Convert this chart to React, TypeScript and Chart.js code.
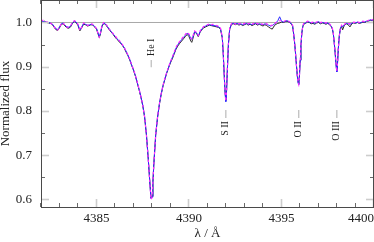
import { useEffect, useRef } from 'react';
import { Chart, registerables } from 'chart.js';

Chart.register(...registerables);

// Wavelength grid (Å)
const wavelengths = [
  4382.0, 4382.1, 4382.2, 4382.3, 4382.4, 4382.5, 4382.6, 4382.7, 4382.8, 4382.9,
  4383.0, 4383.1, 4383.2, 4383.3, 4383.4, 4383.5, 4383.6, 4383.7, 4383.8, 4383.9,
  4384.0, 4384.1, 4384.2, 4384.3, 4384.4, 4384.5, 4384.6, 4384.7, 4384.8, 4384.9,
  4385.0,
  4385.1, 4385.15, 4385.2, 4385.3, 4385.4, 4385.5, 4385.6, 4385.7, 4385.8, 4385.9,
  4386.0, 4386.1, 4386.2, 4386.3, 4386.4, 4386.5, 4386.6, 4386.7, 4386.8, 4386.9,
  4387.0, 4387.1, 4387.2, 4387.3, 4387.4, 4387.5, 4387.6, 4387.7, 4387.8, 4387.9, 4387.95,
  4388.0, 4388.05, 4388.1, 4388.2, 4388.3, 4388.4, 4388.5, 4388.6, 4388.7, 4388.8, 4388.9,
  4389.0, 4389.1, 4389.2, 4389.3, 4389.4, 4389.5, 4389.6, 4389.7, 4389.8, 4389.9,
  4390.0, 4390.1, 4390.15, 4390.2, 4390.3, 4390.4, 4390.5, 4390.6, 4390.7, 4390.8, 4390.9,
  4391.0, 4391.1, 4391.2, 4391.3, 4391.4, 4391.5, 4391.6, 4391.7,
  4391.8, 4391.85, 4391.9, 4391.95, 4391.99, 4392.03, 4392.08, 4392.13, 4392.2, 4392.3,
  4392.4, 4392.5, 4392.6, 4392.7, 4392.8, 4392.9,
  4393.0, 4393.1, 4393.2, 4393.3, 4393.4, 4393.5, 4393.6, 4393.7, 4393.8, 4393.9,
  4394.0, 4394.1, 4394.2, 4394.3, 4394.4, 4394.5, 4394.6, 4394.7, 4394.8, 4394.9,
  4395.0, 4395.1, 4395.2, 4395.3, 4395.4, 4395.5,
  4395.6, 4395.65, 4395.7, 4395.75, 4395.8, 4395.85, 4395.9, 4395.93, 4395.97, 4396.01, 4396.05, 4396.1, 4396.15, 4396.2,
  4396.3, 4396.4, 4396.5, 4396.6, 4396.7, 4396.8, 4396.9, 4397.0, 4397.1, 4397.2, 4397.3, 4397.4, 4397.5, 4397.6, 4397.7,
  4397.75, 4397.8, 4397.85, 4397.9, 4397.95, 4397.99, 4398.03, 4398.07, 4398.12, 4398.18, 4398.25,
  4398.3, 4398.4, 4398.5, 4398.6, 4398.7, 4398.8, 4398.9, 4399.0, 4399.1, 4399.2, 4399.3, 4399.4, 4399.5, 4399.6, 4399.7, 4399.8, 4399.9, 4400.0,
];

// Observed spectrum (dark line)
const observed = [
  1.002, 1.001, 1.003, 1.0, 0.999, 0.998, 0.996, 0.99, 0.984, 0.982,
  0.988, 0.996, 0.997, 0.992, 0.988, 0.987, 0.99, 0.998, 1.002, 1.0,
  0.993, 0.981, 0.988, 0.996, 0.995, 0.992, 0.993, 0.995, 0.994, 0.99,
  0.985,
  0.972, 0.966, 0.972, 0.992, 0.998, 0.995, 0.989, 0.983, 0.978, 0.973,
  0.967, 0.962, 0.958, 0.953, 0.948, 0.942, 0.933, 0.925, 0.915, 0.903,
  0.892, 0.879, 0.864, 0.848, 0.831, 0.812, 0.786, 0.745, 0.69, 0.628, 0.603,
  0.607, 0.64, 0.68, 0.745, 0.785, 0.815, 0.838, 0.857, 0.872, 0.886, 0.898,
  0.909, 0.918, 0.929, 0.94, 0.947, 0.953, 0.958, 0.963, 0.968, 0.973,
  0.968, 0.958, 0.955, 0.962, 0.978, 0.976, 0.968, 0.978, 0.984, 0.988, 0.99,
  0.992, 0.994, 0.993, 0.992, 0.991, 0.99, 0.989, 0.985,
  0.965, 0.93, 0.885, 0.843, 0.824, 0.846, 0.9, 0.95, 0.985, 0.996,
  0.997, 0.995, 0.997, 0.994, 0.996, 0.993,
  0.995, 0.997, 0.994, 0.996, 0.993, 0.995, 0.997, 0.994, 0.996, 0.994,
  0.992, 0.995, 0.993, 0.99, 0.987, 0.985, 0.992, 0.996, 0.998, 0.999,
  1.001, 1.0, 1.002, 1.003, 1.001, 0.998,
  0.992, 0.976, 0.958, 0.935, 0.908, 0.882, 0.865, 0.861, 0.88, 0.915, 0.948, 0.976, 0.99, 0.996,
  0.998, 1.001, 1.0, 0.997, 0.998, 0.996, 0.999, 1.0, 0.997, 0.999, 0.998, 0.996, 0.998, 0.995, 0.99,
  0.985, 0.975, 0.955, 0.932, 0.905, 0.89, 0.91, 0.94, 0.968, 0.985, 0.992,
  0.983, 0.994, 0.997, 0.995, 0.99, 0.997, 0.999, 0.998, 1.0, 0.998, 0.999, 1.001, 1.0, 1.002, 1.003, 1.005, 1.004, 1.006,
];

// Model A (blue)
const modelBlue = [
  1.003, 1.002, 1.002, 1.001, 1.0, 0.999, 0.997, 0.992, 0.986, 0.984,
  0.99, 0.997, 0.999, 0.994, 0.99, 0.989, 0.992, 0.999, 1.003, 1.001,
  0.995, 0.983, 0.99, 0.998, 0.996, 0.994, 0.994, 0.996, 0.995, 0.991,
  0.987,
  0.974, 0.968, 0.974, 0.993, 0.999, 0.996, 0.99, 0.985, 0.979, 0.974,
  0.969, 0.964, 0.959, 0.955, 0.949, 0.943, 0.935, 0.926, 0.916, 0.904,
  0.893, 0.88, 0.865, 0.849, 0.832, 0.813, 0.787, 0.746, 0.69, 0.627, 0.601,
  0.605, 0.639, 0.68, 0.746, 0.786, 0.816, 0.839, 0.858, 0.873, 0.887, 0.899,
  0.911, 0.921, 0.931, 0.942, 0.95, 0.956, 0.961, 0.966, 0.971, 0.976,
  0.972, 0.964, 0.962, 0.966, 0.979, 0.977, 0.97, 0.979, 0.986, 0.99, 0.992,
  0.994, 0.995, 0.994, 0.993, 0.993, 0.991, 0.99, 0.987,
  0.966, 0.93, 0.884, 0.84, 0.821, 0.844, 0.899, 0.95, 0.986, 0.997,
  0.998, 0.997, 0.998, 0.996, 0.997, 0.995,
  0.996, 0.998, 0.996, 0.997, 0.995, 0.997, 0.998, 0.996, 0.997, 0.996,
  0.995, 0.997, 0.996, 0.994, 0.992, 0.993, 0.996, 0.999, 1.004, 1.013,
  1.003, 1.001, 1.003, 1.004, 1.002, 0.999,
  0.993, 0.977, 0.958, 0.934, 0.906, 0.88, 0.863, 0.859, 0.878, 0.914, 0.948, 0.977, 0.991, 0.997,
  0.999, 1.002, 1.001, 0.999, 1.0, 0.998, 1.0, 1.002, 0.999, 1.0, 0.999, 0.998, 0.999, 0.996, 0.991,
  0.986, 0.975, 0.954, 0.93, 0.903, 0.888, 0.908, 0.939, 0.968, 0.986, 0.993,
  0.99, 0.995, 0.998, 0.997, 0.996, 0.998, 1.0, 0.999, 1.001, 0.999, 1.0, 1.002, 1.001, 1.003, 1.004, 1.006, 1.005, 1.007,
];

// Model B (magenta, dashed)
const modelMagenta = [
  1.004, 1.005, 1.004, 1.001, 1.001, 0.999, 0.996, 0.991, 0.985, 0.983,
  0.989, 0.998, 0.999, 0.993, 0.989, 0.99, 0.993, 1.0, 1.004, 1.002,
  0.996, 0.982, 0.989, 0.999, 0.997, 0.993, 0.995, 0.997, 0.996, 0.992,
  0.986,
  0.973, 0.967, 0.973, 0.994, 1.0, 0.997, 0.991, 0.984, 0.98, 0.975,
  0.97, 0.965, 0.961, 0.956, 0.95, 0.944, 0.934, 0.927, 0.917, 0.905,
  0.894, 0.881, 0.866, 0.85, 0.833, 0.813, 0.787, 0.745, 0.689, 0.626, 0.6,
  0.604, 0.64, 0.681, 0.746, 0.786, 0.816, 0.84, 0.859, 0.874, 0.888, 0.9,
  0.912, 0.922, 0.933, 0.944, 0.952, 0.957, 0.963, 0.968, 0.973, 0.978,
  0.974, 0.966, 0.963, 0.968, 0.981, 0.978, 0.971, 0.981, 0.987, 0.991, 0.993,
  0.995, 0.997, 0.995, 0.996, 0.994, 0.993, 0.992, 0.988,
  0.967, 0.931, 0.885, 0.841, 0.822, 0.845, 0.9, 0.951, 0.987, 0.998,
  0.999, 0.996, 0.999, 0.997, 0.998, 0.996,
  0.998, 0.999, 0.997, 0.999, 0.996, 0.998, 1.0, 0.997, 0.998, 0.997,
  0.996, 0.998, 0.997, 0.995, 0.993, 0.994, 0.997, 1.0, 1.002, 1.004,
  1.004, 1.002, 1.004, 1.005, 1.003, 1.0,
  0.994, 0.978, 0.959, 0.935, 0.907, 0.881, 0.864, 0.86, 0.879, 0.915, 0.949, 0.978, 0.992, 0.998,
  1.0, 1.003, 1.002, 1.0, 1.001, 0.999, 1.001, 1.003, 1.0, 1.001, 1.0, 0.999, 1.0, 0.997, 0.992,
  0.987, 0.976, 0.955, 0.931, 0.904, 0.889, 0.909, 0.94, 0.969, 0.987, 0.994,
  0.991, 0.996, 0.999, 0.998, 0.997, 0.999, 1.001, 1.0, 1.002, 1.0, 1.001, 1.003, 1.002, 1.004, 1.005, 1.007, 1.006, 1.008,
];

// Continuum reference line
const continuumX = [4382, 4400];
const continuumY = [1.0, 1.0];

// Axis ticks
const xTickValues = [4382, 4383, 4384, 4385, 4386, 4387, 4388, 4389, 4390, 4391, 4392, 4393, 4394, 4395, 4396, 4397, 4398, 4399, 4400];
const xMajorTicks = [4385, 4390, 4395, 4400];
const yTickValues = [0.6, 0.65, 0.7, 0.75, 0.8, 0.85, 0.9, 0.95, 1.0];
const yMajorTicks = [0.6, 0.7, 0.8, 0.9, 1.0];
const yTickLabels = ['0.6', '0.7', '0.8', '0.9', '1.0'];

// Line identifications
const lineNames = ['He I', 'S II', 'O II', 'O III'];
const lineWaves = [4387.96, 4391.99, 4395.93, 4397.99];

const SERIF = '"Liberation Serif", "Times New Roman", serif';

const isMajorX = (v: number) => xMajorTicks.some((m) => Math.abs(m - v) < 1e-6);
const isMajorY = (v: number) => yMajorTicks.some((m) => Math.abs(m - v) < 1e-6);

const frameAndLabels = {
  id: 'frameAndLabels',
  afterDatasetsDraw(chart: any) {
    const { ctx, chartArea: a, scales } = chart;
    const xs = scales.x;
    const ys = scales.y;
    ctx.save();
    const seg = (x1: number, y1: number, x2: number, y2: number) => {
      ctx.beginPath();
      ctx.moveTo(x1, y1);
      ctx.lineTo(x2, y2);
      ctx.stroke();
    };
    // x ticks (inward, bottom & top)
    xTickValues.forEach((v) => {
      const major = isMajorX(v);
      const px = Math.round(xs.getPixelForValue(v)) - 0.5;
      ctx.strokeStyle = major ? '#cdcdcd' : '#6a6a6a';
      ctx.lineWidth = major ? 1.6 : 1;
      const len = major ? 8 : 4;
      seg(px, a.bottom, px, a.bottom - len);
      seg(px, a.top, px, a.top + len);
    });
    // y ticks (inward, left & right)
    yTickValues.forEach((v) => {
      const major = isMajorY(v);
      const py = Math.round(ys.getPixelForValue(v)) + 0.5;
      ctx.strokeStyle = major ? '#cdcdcd' : '#6a6a6a';
      ctx.lineWidth = major ? 1.6 : 1;
      const len = major ? 8 : 4;
      seg(a.left, py, a.left + len, py);
      seg(a.right, py, a.right - len, py);
    });
    // frame
    ctx.strokeStyle = '#4a4a4a';
    ctx.lineWidth = 1;
    ctx.strokeRect(a.left + 0.5, a.top + 0.5, a.right - a.left - 1, a.bottom - a.top);

    // line identifications
    ctx.font = '10px ' + SERIF;
    ctx.fillStyle = '#222';
    ctx.textBaseline = 'middle';
    lineNames.forEach((name, i) => {
      const px = xs.getPixelForValue(lineWaves[i]);
      const above = i === 0;
      ctx.strokeStyle = '#c4c4c4';
      ctx.lineWidth = 1.4;
      if (above) {
        const y1 = ys.getPixelForValue(0.915);
        const y2 = ys.getPixelForValue(0.899);
        seg(px, y1, px, y2);
        ctx.save();
        ctx.translate(px, ys.getPixelForValue(0.924));
        ctx.rotate(-Math.PI / 2);
        ctx.textAlign = 'left';
        ctx.fillText(name, 0, 0);
        ctx.restore();
      } else {
        const y1 = ys.getPixelForValue(0.802);
        const y2 = ys.getPixelForValue(0.784);
        seg(px, y1, px, y2);
        ctx.save();
        ctx.translate(px, ys.getPixelForValue(0.777));
        ctx.rotate(-Math.PI / 2);
        ctx.textAlign = 'right';
        ctx.fillText(name, 0, 0);
        ctx.restore();
      }
    });
    ctx.restore();
  },
};

export default function App() {
  const ref = useRef<HTMLCanvasElement | null>(null);
  useEffect(() => {
    if (!ref.current) return;
    const pts = (ys: number[]) => wavelengths.map((x, i) => ({ x, y: ys[i] }));
    const chart = new Chart(ref.current, {
      type: 'line',
      data: {
        datasets: [
          {
            label: 'continuum',
            data: continuumX.map((x, i) => ({ x, y: continuumY[i] })),
            borderColor: '#a8a8a8',
            borderWidth: 1,
            pointRadius: 0,
            order: 4,
          },
          {
            label: 'observed',
            data: pts(observed),
            borderColor: '#2a2a2a',
            borderWidth: 1,
            pointRadius: 0,
            order: 3,
          },
          {
            label: 'model A',
            data: pts(modelBlue),
            borderColor: '#2b2bff',
            borderWidth: 1,
            pointRadius: 0,
            order: 2,
          },
          {
            label: 'model B',
            data: pts(modelMagenta),
            borderColor: '#ff2cff',
            borderWidth: 1.2,
            borderDash: [2.5, 2.5],
            pointRadius: 0,
            order: 1,
          },
        ],
      },
      plugins: [frameAndLabels],
      options: {
        responsive: false,
        animation: false,
        events: [],
        layout: { padding: { top: 0, right: 0, left: 0, bottom: 0 } },
        plugins: { legend: { display: false }, tooltip: { enabled: false } },
        elements: { line: { tension: 0 } },
        scales: {
          x: {
            type: 'linear',
            min: 4382,
            max: 4400,
            afterBuildTicks: (scale: any) => {
              scale.ticks = xTickValues.map((value) => ({ value }));
            },
            afterFit: (scale: any) => {
              scale.height = 35;
              scale.paddingLeft = 0;
              scale.paddingRight = 0;
            },
            grid: { display: false, drawTicks: false },
            border: { display: false },
            ticks: {
              autoSkip: false,
              maxRotation: 0,
              align: 'inner',
              padding: 4,
              color: '#222',
              font: { family: SERIF, size: 13 },
              callback: (v: any) => (isMajorX(Number(v)) ? String(v) : ''),
            },
            title: {
              display: true,
              text: 'λ / Å',
              color: '#222',
              font: { family: SERIF, size: 13, lineHeight: 1.3 },
              padding: 0,
            },
          },
          y: {
            type: 'linear',
            min: 0.5826,
            max: 1.0509,
            afterBuildTicks: (scale: any) => {
              scale.ticks = yTickValues.map((value) => ({ value }));
            },
            afterFit: (scale: any) => {
              scale.width = 41;
              scale.paddingTop = 0;
              scale.paddingBottom = 0;
            },
            grid: { display: false, drawTicks: false },
            border: { display: false },
            ticks: {
              autoSkip: false,
              padding: 9,
              color: '#222',
              font: { family: SERIF, size: 13 },
              callback: (v: any) => {
                const idx = yMajorTicks.findIndex((m) => Math.abs(m - Number(v)) < 1e-6);
                return idx >= 0 ? yTickLabels[idx] : '';
              },
            },
            title: {
              display: true,
              text: 'Normalized flux',
              color: '#222',
              font: { family: SERIF, size: 13, lineHeight: 0.85 },
              padding: 0,
            },
          },
        },
      },
    } as any);
    return () => chart.destroy();
  }, []);
  return (
    <div style={{ position: 'absolute', left: 0, top: 0, width: 374, height: 242 }}>
      <canvas ref={ref} width={374} height={242} style={{ display: 'block' }} />
    </div>
  );
}
